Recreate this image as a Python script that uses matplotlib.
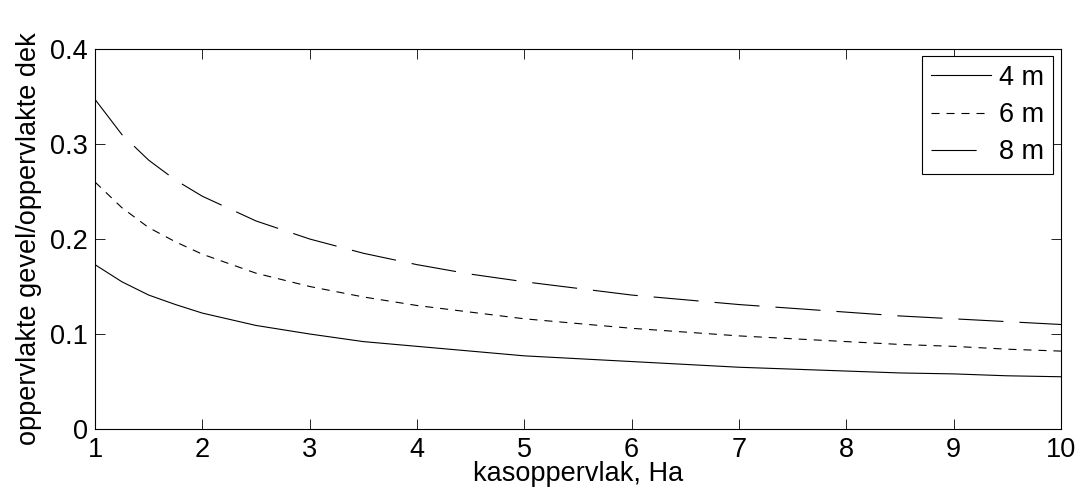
import matplotlib.pyplot as plt

plt.rcParams["font.family"] = ["Liberation Sans", "DejaVu Sans"]
plt.rcParams["lines.scale_dashes"] = False

# ── Data ──────────────────────────────────────────────────────────────────────
area_ha = [1, 1.25, 1.5, 1.75, 2, 2.5, 3, 3.5, 4, 4.5, 5, 5.5,
           6, 6.5, 7, 7.5, 8, 8.5, 9, 9.5, 10]
ratio_4m = [0.173, 0.155, 0.141, 0.131, 0.122, 0.109, 0.100, 0.092, 0.087, 0.082, 0.077, 0.074,
            0.071, 0.068, 0.065, 0.063, 0.061, 0.059, 0.058, 0.056, 0.055]
ratio_6m = [0.260, 0.233, 0.212, 0.197, 0.184, 0.164, 0.150, 0.139, 0.130, 0.123, 0.116, 0.111,
            0.106, 0.102, 0.098, 0.095, 0.092, 0.089, 0.087, 0.084, 0.082]
ratio_8m = [0.347, 0.310, 0.283, 0.262, 0.245, 0.219, 0.200, 0.185, 0.173, 0.163, 0.155, 0.148,
            0.141, 0.136, 0.131, 0.127, 0.123, 0.119, 0.116, 0.113, 0.110]
labels = ["4 m", "6 m", "8 m"]
x_ticks = [1, 2, 3, 4, 5, 6, 7, 8, 9, 10]
y_ticks = [0, 0.1, 0.2, 0.3, 0.4]
y_ticklabels = ["0", "0.1", "0.2", "0.3", "0.4"]

fs = 19.5

fig = plt.figure(figsize=(10.8, 4.95), dpi=100)
ax = fig.add_axes([95 / 1080, 1 - 429 / 495, 966 / 1080, 380 / 495])

lw = 0.8
ax.plot(area_ha, ratio_4m, color="black", lw=lw, linestyle="-", label=labels[0])
ax.plot(area_ha, ratio_6m, color="black", lw=lw, linestyle=(0, (5.8, 5.0)), label=labels[1])
ax.plot(area_ha, ratio_8m, color="black", lw=lw, linestyle=(0, (32.5, 11.5)), label=labels[2])

ax.set_xlim(1, 10)
ax.set_ylim(0, 0.4)
ax.set_xticks(x_ticks)
ax.set_yticks(y_ticks)
ax.set_yticklabels(y_ticklabels)
ax.tick_params(direction="in", length=7, width=0.6, labelsize=fs,
               top=True, right=True)
ax.tick_params(axis="x", pad=5.5)
ax.tick_params(axis="y", pad=5)
for s in ax.spines.values():
    s.set_linewidth(0.8)

ax.set_xlabel("kasoppervlak, Ha", fontsize=fs, labelpad=-1)
ax.set_ylabel("oppervlakte gevel/oppervlakte dek", fontsize=fs, labelpad=6)

leg = ax.legend(loc="upper right", bbox_to_anchor=(0.9917, 0.9816),
                borderaxespad=0, fancybox=False, edgecolor="black",
                fontsize=fs, handlelength=2.2, handletextpad=0.3,
                labelspacing=0.41, borderpad=0.33, framealpha=1)
leg.get_frame().set_linewidth(0.8)

fig.savefig("out.png", dpi=100)
